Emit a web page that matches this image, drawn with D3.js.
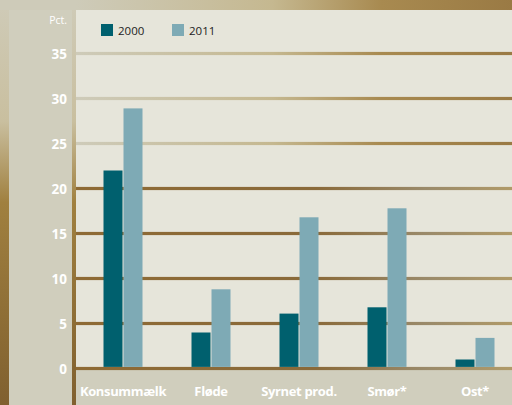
<!DOCTYPE html>
<html>
<head>
<meta charset="utf-8">
<script src="https://cdn.jsdelivr.net/npm/d3@7"></script>
<style>
    body { margin: 0; background: #d0cebd; }
    svg { display: block; }
    .tick-label { fill: #fff; font-family: "Open Sans", sans-serif; font-weight: 700; font-size: 13.5px; }
    .cat-label { fill: #fff; font-family: "Open Sans", sans-serif; font-weight: 700; font-size: 13px; letter-spacing: -0.35px; }
    .legend-text { fill: #222; font-family: "Open Sans", sans-serif; font-size: 11.5px; }
</style>
</head>
<body>
<svg id="canvas" width="512" height="405"></svg>
<script>
const categories = ['Konsummælk', 'Fløde', 'Syrnet prod.', 'Smør*', 'Ost*'];
const series = ['2000', '2011'];
const values2000 = [22.0, 4.0, 6.1, 6.8, 1.0];
const values2011 = [28.9, 8.8, 16.8, 17.8, 3.4];
const yTicks = [0, 5, 10, 15, 20, 25, 30, 35];
const colors = ['#00606e', '#7eaab5'];

const svg = d3.select('#canvas');
const W = 512, H = 405;

const xScale = d3.scaleBand()
    .domain(categories)
    .range([79, 519]);
const x1 = d3.scaleBand()
    .domain(series)
    .range([-19.5, 20.5]);
const yScale = d3.scaleLinear()
    .domain([0, 35])
    .range([368.5, 53.5]);

// "photo" behind the panels
const defs = svg.append('defs');
const photo = defs.append('linearGradient')
    .attr('id', 'photo')
    .attr('gradientUnits', 'userSpaceOnUse')
    .attr('x1', 0).attr('y1', 0).attr('x2', 0).attr('y2', H);
photo.append('stop').attr('offset', 0).attr('stop-color', '#cfcbb8');
photo.append('stop').attr('offset', 0.3).attr('stop-color', '#c9bf9f');
photo.append('stop').attr('offset', 0.5).attr('stop-color', '#a0803f');
photo.append('stop').attr('offset', 1).attr('stop-color', '#80602f');

const lineGrad = defs.append('linearGradient')
    .attr('id', 'linegrad')
    .attr('gradientUnits', 'userSpaceOnUse')
    .attr('x1', 76).attr('y1', 0).attr('x2', 512).attr('y2', 0);
lineGrad.append('stop').attr('offset', 0).attr('stop-color', '#8e6a34');
lineGrad.append('stop').attr('offset', 0.55).attr('stop-color', '#8a6a3a');
lineGrad.append('stop').attr('offset', 0.8).attr('stop-color', '#9a8a6a');
lineGrad.append('stop').attr('offset', 1).attr('stop-color', '#b09a68');

const topGrad = defs.append('linearGradient')
    .attr('id', 'topgrad')
    .attr('gradientUnits', 'userSpaceOnUse')
    .attr('x1', 76).attr('y1', 0).attr('x2', 512).attr('y2', 0);
topGrad.append('stop').attr('offset', 0).attr('stop-color', '#cecbb9');
topGrad.append('stop').attr('offset', 0.45).attr('stop-color', '#c5b890');
topGrad.append('stop').attr('offset', 0.7).attr('stop-color', '#a88a50');
topGrad.append('stop').attr('offset', 1).attr('stop-color', '#9a7a44');

svg.append('rect')
    .attr('width', W).attr('height', H)
    .attr('fill', 'url(#photo)');

// top strip
svg.append('rect')
    .attr('x', 0).attr('y', 0).attr('width', W).attr('height', 10)
    .attr('fill', 'url(#topgrad)');
svg.append('rect')
    .attr('x', 9).attr('y', 0).attr('width', 63).attr('height', H)
    .attr('fill', '#d0cebd');
svg.append('rect')
    .attr('x', 0).attr('y', 0).attr('width', 72).attr('height', 10)
    .attr('fill', '#cecbb9');

// plot panel
svg.append('rect')
    .attr('x', 76).attr('y', 10).attr('width', W - 76).attr('height', yScale(0) - 10)
    .attr('fill', '#e6e5da');

// bottom band
svg.append('rect')
    .attr('x', 76).attr('y', yScale(0) + 1.5).attr('width', W - 76).attr('height', H - yScale(0))
    .attr('fill', '#d0cebd');

// gridlines
let gs = svg.append('g').attr('id', 'grid')
    .selectAll('rect')
    .data(yTicks);
gs.enter().append('rect')
    .attr('x', 76)
    .attr('y', d => yScale(d) - 1.6)
    .attr('width', W - 76)
    .attr('height', 3.2)
    .attr('fill', d => d >= 25 ? 'url(#topgrad)' : 'url(#linegrad)');

// bars
const data = [];
categories.forEach((c, i) => {
    data.push({cat: c, s: '2000', v: values2000[i]});
    data.push({cat: c, s: '2011', v: values2011[i]});
});
svg.append('g').attr('id', 'bars')
    .selectAll('rect')
    .data(data)
    .enter().append('rect')
    .attr('x', d => xScale(d.cat) + xScale.bandwidth() / 2 + x1(d.s))
    .attr('y', d => yScale(d.v))
    .attr('width', x1.bandwidth() - 1)
    .attr('height', d => yScale(0) - 1.6 - yScale(d.v))
    .attr('fill', d => colors[series.indexOf(d.s)]);

// vertical divider
svg.append('rect')
    .attr('x', 72).attr('y', 10).attr('width', 4).attr('height', H - 10)
    .attr('fill', 'url(#photo)');

// y labels
svg.append('g')
    .selectAll('text')
    .data(yTicks)
    .enter().append('text')
    .attr('class', 'tick-label')
    .attr('x', 67)
    .attr('y', d => yScale(d))
    .attr('text-anchor', 'end')
    .attr('dominant-baseline', 'central')
    .text(d => d);

svg.append('text')
    .attr('x', 67).attr('y', 24)
    .attr('text-anchor', 'end')
    .attr('fill', '#fff')
    .style('font-family', '"Open Sans", sans-serif')
    .style('font-size', '10.5px')
    .text('Pct.');

// category labels
svg.append('g')
    .selectAll('text')
    .data(categories)
    .enter().append('text')
    .attr('class', 'cat-label')
    .attr('x', d => xScale(d) + xScale.bandwidth() / 2)
    .attr('y', 396)
    .attr('text-anchor', 'middle')
    .text(d => d);

// legend
const legend = svg.append('g')
    .selectAll('g')
    .data(series)
    .enter().append('g')
    .attr('transform', (d, i) => 'translate(' + (101 + i * 71) + ',24)');
legend.append('rect')
    .attr('width', 12).attr('height', 12)
    .attr('fill', (d, i) => colors[i]);
legend.append('text')
    .attr('class', 'legend-text')
    .attr('x', 17).attr('y', 10.5)
    .text(d => d);
</script>
</body>
</html>
